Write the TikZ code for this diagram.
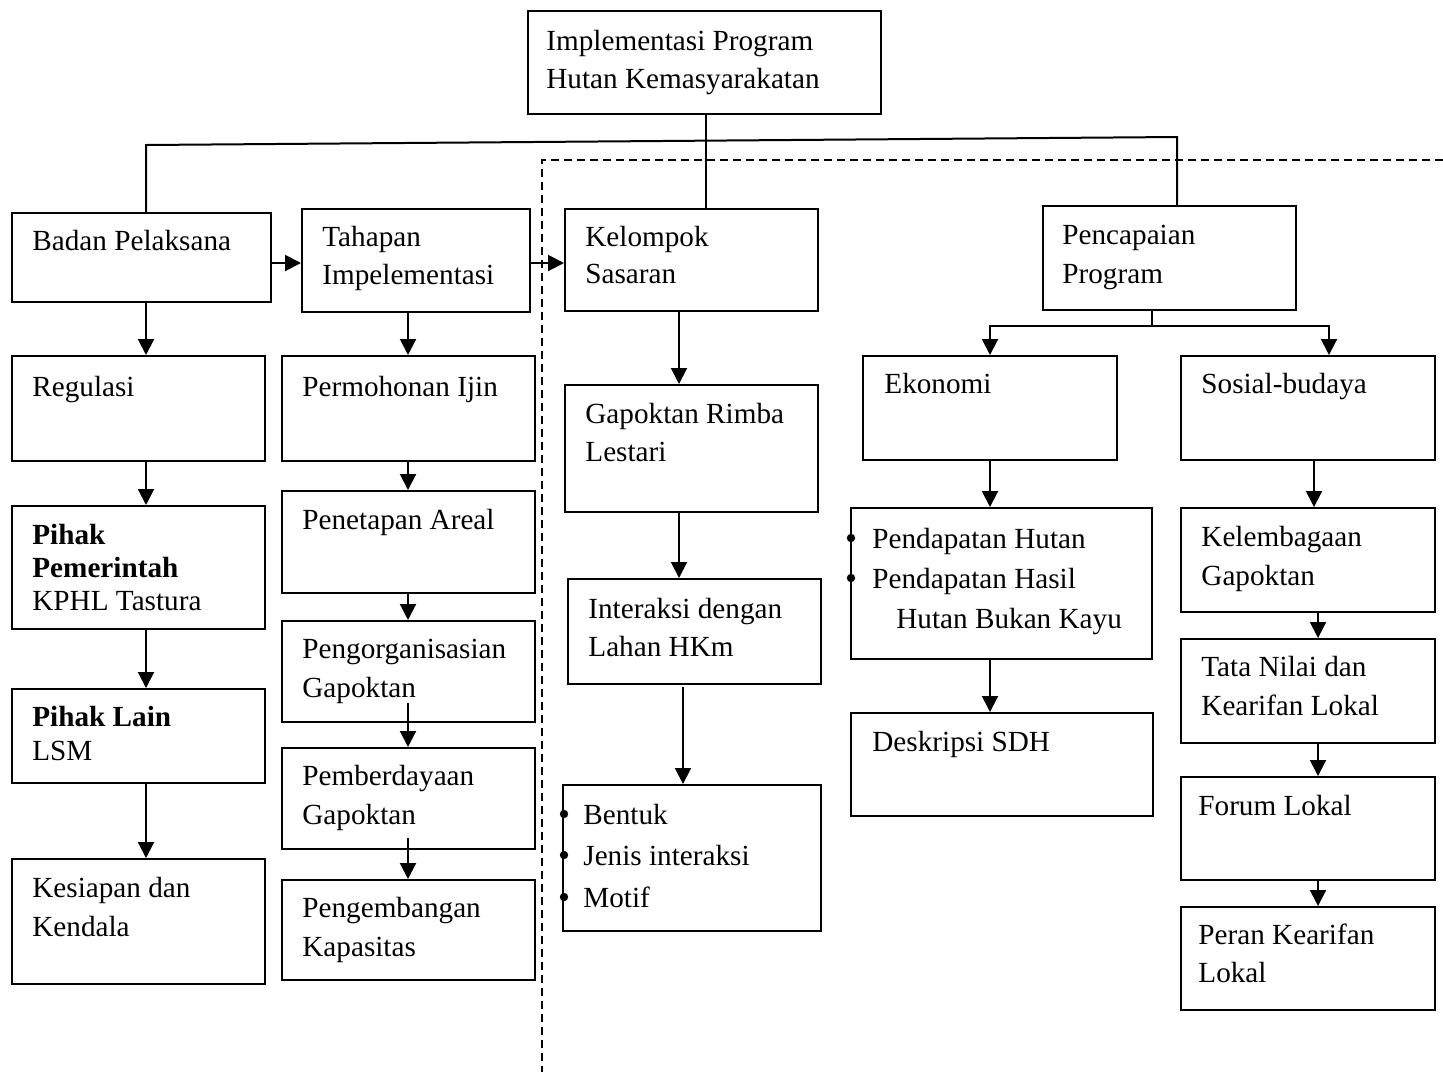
\documentclass[tikz,border=0pt]{standalone}
\usepackage{fontspec}
\setmainfont{Liberation Serif}
\usetikzlibrary{arrows.meta}
\newcommand\mybox[5]{\node[box, minimum width={(#4-#2)*0.5pt}, minimum height={(#5-#3)*0.5pt}] (#1) at (#2,#3) {};}
\newcommand\tl[4]{\node[txt] (#1) at (#2,{#3+10}) {#4};}
\begin{document}
\begin{tikzpicture}[x=0.5pt,y=-0.5pt,
  box/.style={draw, line width=1.1pt, inner sep=0pt, anchor=north west},
  txt/.style={anchor=base west, inner sep=0pt, font=\fontsize{14.6}{17}\selectfont},
  link/.style={line width=1pt},
  arr/.style={line width=1pt, -{Triangle[width=8pt,length=8pt]}},
  guide/.style={dash pattern=on 4pt off 2.5pt, line width=0.8pt},
  bul/.style={circle, fill, inner sep=0pt, minimum size=4.2pt}]
\useasboundingbox[fill=white] (0,0) rectangle (1443,1072);

% dashed frame
\draw[guide] (1443,160) -- (542,160) -- (542,1072);

% boxes
\mybox{top}{527}{10}{880}{113}
\mybox{badan}{11}{212}{270}{301}
\mybox{tahapan}{301}{208}{529}{311}
\mybox{kelompok}{564}{208}{817}{310}
\mybox{pencapaian}{1042}{205}{1295}{309}
\mybox{regulasi}{11}{355}{264}{460}
\mybox{pemerintah}{11}{505}{264}{628}
\mybox{lain}{11}{688}{264}{782}
\mybox{kesiapan}{11}{858}{264}{983}
\mybox{permohonan}{281}{355}{534}{460}
\mybox{penetapan}{281}{490}{534}{592}
\mybox{pengorg}{281}{620}{534}{721}
\mybox{pemberdayaan}{281}{747}{534}{848}
\mybox{pengembangan}{281}{879}{534}{979}
\mybox{rimba}{564}{384}{817}{511}
\mybox{interaksi}{567}{578}{820}{683}
\mybox{bentuk}{562}{784}{820}{930}
\mybox{ekonomi}{862}{355}{1116}{459}
\mybox{sosial}{1180}{355}{1434}{459}
\mybox{pendapatan}{850}{507}{1151}{658}
\mybox{kelembagaan}{1180}{507}{1434}{611}
\mybox{deskripsi}{850}{712}{1152}{815}
\mybox{tatanilai}{1180}{638}{1434}{742}
\mybox{forum}{1180}{776}{1434}{879}
\mybox{peran}{1180}{906}{1434}{1009}

% texts
\tl{t1a}{546}{40}{Implementasi Program}
\tl{t1b}{546}{78}{Hutan Kemasyarakatan}
\tl{t2}{32}{240}{Badan Pelaksana}
\tl{t3a}{322}{236}{Tahapan}
\tl{t3b}{322}{274}{Impelementasi}
\tl{t4a}{585}{236}{Kelompok}
\tl{t4b}{585}{273}{Sasaran}
\tl{t5a}{1062}{234}{Pencapaian}
\tl{t5b}{1062}{273}{Program}
\tl{t6}{32}{386}{Regulasi}
\tl{t7a}{32}{534}{\bfseries Pihak}
\tl{t7b}{32}{567}{\bfseries Pemerintah}
\tl{t7c}{32}{600}{KPHL Tastura}
\tl{t8a}{32}{716}{\bfseries Pihak Lain}
\tl{t8b}{32}{750}{LSM}
\tl{t9a}{32}{887}{Kesiapan dan}
\tl{t9b}{32}{926}{Kendala}
\tl{t10}{302}{386}{Permohonan Ijin}
\tl{t11}{302}{519}{Penetapan Areal}
\tl{t12a}{302}{648}{Pengorganisasian}
\tl{t12b}{302}{687}{Gapoktan}
\tl{t13a}{302}{775}{Pemberdayaan}
\tl{t13b}{302}{814}{Gapoktan}
\tl{t14a}{302}{907}{Pengembangan}
\tl{t14b}{302}{946}{Kapasitas}
\tl{t15a}{585}{413}{Gapoktan Rimba}
\tl{t15b}{585}{451}{Lestari}
\tl{t16a}{588}{608}{Interaksi dengan}
\tl{t16b}{588}{646}{Lahan HKm}
\tl{t17a}{583}{814}{Bentuk}
\tl{t17b}{583}{855}{Jenis interaksi}
\tl{t17c}{583}{897}{Motif}
\tl{t18}{884}{383}{Ekonomi}
\tl{t19}{1201}{383}{Sosial-budaya}
\tl{t20a}{872}{538}{Pendapatan Hutan}
\tl{t20b}{872}{578}{Pendapatan Hasil}
\tl{t20c}{896}{618}{Hutan Bukan Kayu}
\tl{t21a}{1201}{536}{Kelembagaan}
\tl{t21b}{1201}{575}{Gapoktan}
\tl{t22}{872}{741}{Deskripsi SDH}
\tl{t23a}{1201}{666}{Tata Nilai dan}
\tl{t23b}{1201}{705}{Kearifan Lokal}
\tl{t24}{1198}{805}{Forum Lokal}
\tl{t25a}{1198}{934}{Peran Kearifan}
\tl{t25b}{1198}{972}{Lokal}

% bullets
\node[bul] (b1) at (564,814) {};
\node[bul] (b2) at (564,855) {};
\node[bul] (b3) at (564,897) {};
\node[bul] (b4) at (851,538) {};
\node[bul] (b5) at (851,578) {};

% column coordinates
\coordinate (jl) at (146,145);
\coordinate (jr) at (1177,137);
\coordinate (kx) at (706,0);
\coordinate (ay) at (0,263);
\coordinate (ca) at (146,0);
\coordinate (cb) at (408,0);
\coordinate (cc) at (679,0);
\coordinate (cd) at (683,0);
\coordinate (pcx) at (1152,0);
\coordinate (hy) at (0,326);
\coordinate (ex) at (990,0);
\coordinate (sx) at (1329,0);
\coordinate (kbx) at (1314,0);
\coordinate (sc) at (1318,0);
\coordinate (s1) at (408,703);
\coordinate (s2) at (408,838);
\coordinate (s3) at (683,687);

% top tree
\draw[link] (top.south -| kx) -- (kelompok.north -| kx);
\draw[link] (badan.north -| jl) -- (jl) -- (jr) -- (pencapaian.north -| jr);

% horizontal arrows
\draw[arr] (badan.east |- ay) -- (tahapan.west |- ay);
\draw[arr] (tahapan.east |- ay) -- (kelompok.west |- ay);

% column A
\draw[arr] (badan.south -| ca) -- (regulasi.north -| ca);
\draw[arr] (regulasi.south -| ca) -- (pemerintah.north -| ca);
\draw[arr] (pemerintah.south -| ca) -- (lain.north -| ca);
\draw[arr] (lain.south -| ca) -- (kesiapan.north -| ca);

% column B
\draw[arr] (tahapan.south -| cb) -- (permohonan.north -| cb);
\draw[arr] (permohonan.south -| cb) -- (penetapan.north -| cb);
\draw[arr] (penetapan.south -| cb) -- (pengorg.north -| cb);
\draw[arr] (s1) -- (pemberdayaan.north -| cb);
\draw[arr] (s2) -- (pengembangan.north -| cb);

% column C
\draw[arr] (kelompok.south -| cc) -- (rimba.north -| cc);
\draw[arr] (rimba.south -| cc) -- (interaksi.north -| cc);
\draw[arr] (s3) -- (bentuk.north -| cd);

% column D
\draw[arr] (pencapaian.south -| pcx) -- (pcx |- hy) -| (ekonomi.north -| ex);
\draw[arr] (pcx |- hy) -| (sosial.north -| sx);
\draw[arr] (ekonomi.south -| ex) -- (pendapatan.north -| ex);
\draw[arr] (pendapatan.south -| ex) -- (deskripsi.north -| ex);
\draw[arr] (sosial.south -| kbx) -- (kelembagaan.north -| kbx);
\draw[arr] (kelembagaan.south -| sc) -- (tatanilai.north -| sc);
\draw[arr] (tatanilai.south -| sc) -- (forum.north -| sc);
\draw[arr] (forum.south -| sc) -- (peran.north -| sc);
\end{tikzpicture}
\end{document}
